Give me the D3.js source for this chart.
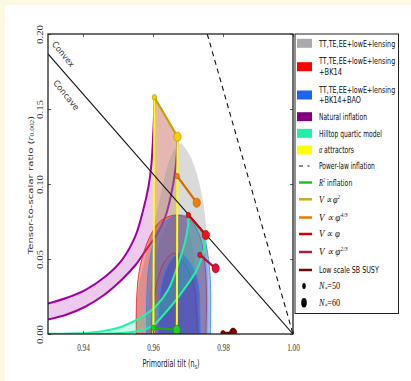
<!DOCTYPE html>
<html><head><meta charset="utf-8">
<script src="https://cdn.jsdelivr.net/npm/d3@7"></script>
<style>html,body{margin:0;padding:0;background:#fdf8e3;}svg{display:block}</style>
</head><body>
<svg id="chart" width="411" height="381"></svg>
<script>
// ---------- data (n_s, r) ----------
const xTicks = [0.94, 0.96, 0.98, 1.00];
const yTicks = [0.00, 0.05, 0.10, 0.15, 0.20];

// Planck 2018 constraints: 95% and 68% regions
const gray95 = [[0.9549,0],[0.9551,0.015],[0.9558,0.03],[0.9571,0.045],[0.9588,0.06],[0.9606,0.076],[0.9625,0.096],[0.9649,0.117],[0.9677,0.127],[0.9703,0.12],[0.9725,0.107],[0.974,0.092],[0.9749,0.078],[0.9755,0.05],[0.9758,0.025],[0.9758,0]];
const gray68 = [[0.9585,0],[0.9588,0.02],[0.9598,0.04],[0.9617,0.06],[0.9645,0.075],[0.9668,0.08],[0.9692,0.075],[0.9712,0.06],[0.9723,0.04],[0.9728,0.02],[0.973,0]];
const red95 = [[0.9553,0],[0.9553,0.0227],[0.9563,0.045],[0.9591,0.065],[0.9625,0.076],[0.9668,0.0793],[0.9705,0.076],[0.9734,0.065],[0.9749,0.045],[0.9753,0.0227],[0.9751,0]];
const red68 = [[0.9596,0],[0.9596,0.0116],[0.9611,0.0338],[0.9632,0.048],[0.9658,0.0538],[0.9686,0.048],[0.9715,0.0338],[0.9725,0.0116],[0.9727,0]];
const blue95 = [[0.9582,0],[0.9582,0.0227],[0.9588,0.045],[0.9608,0.065],[0.9640,0.076],[0.9677,0.0793],[0.9715,0.076],[0.9745,0.065],[0.9761,0.045],[0.9765,0.0227],[0.9764,0]];
const blue68 = [[0.9615,0],[0.9615,0.0116],[0.9625,0.0338],[0.9648,0.048],[0.9677,0.0538],[0.9705,0.048],[0.9729,0.0338],[0.9734,0.0116],[0.9735,0]];

// Natural inflation, N*=50 and N*=60
const natural50 = [[0.93,0.0203],[0.935,0.0238],[0.9406,0.0293],[0.9463,0.0382],[0.9511,0.0493],[0.9549,0.0649],[0.9572,0.0827],[0.9587,0.0982],[0.9595,0.112],[0.96,0.13],[0.9603,0.146],[0.9604,0.1578]];
const natural60 = [[0.93,0.0097],[0.935,0.0127],[0.9405,0.018],[0.946,0.026],[0.951,0.036],[0.955,0.046],[0.958,0.056],[0.961,0.066],[0.9635,0.078],[0.9652,0.093],[0.9663,0.108],[0.9668,0.12],[0.967,0.1315]];

// Hilltop quartic model, N*=50 and N*=60
const hilltop50 = [[0.93,0.0002],[0.9434,0.0012],[0.9506,0.0045],[0.9563,0.0107],[0.9606,0.018],[0.9643,0.0293],[0.9671,0.046],[0.9691,0.061],[0.97,0.072],[0.9701,0.0793]];
const hilltop60 = [[0.93,0],[0.945,0.0001],[0.952,0.0008],[0.9577,0.003],[0.9606,0.0067],[0.9629,0.0125],[0.9655,0.0195],[0.9687,0.0293],[0.9725,0.0427],[0.9745,0.055],[0.9751,0.066]];

// alpha attractors, N*=50 and N*=60
const alpha50 = [[0.9601,0],[0.9604,0.1578]];
const alpha60 = [[0.9668,0],[0.967,0.1315]];

// Single-field models: [N*=50, N*=60]
const phi2  = [[0.9604,0.1578],[0.967,0.1315]];
const phi43 = [[0.9669,0.1053],[0.9725,0.0875]];
const phi1  = [[0.9701,0.0793],[0.9751,0.066]];
const phi23 = [[0.9734,0.0527],[0.9779,0.0438]];
const r2Inf = [[0.9601,0.0042],[0.9668,0.0027]];
const susy  = [[0.9800,0.0006],[0.9829,0.0009]];

// reference lines
const convexLine = [[0.93,0.1867],[1.0,0]];
const powerLaw   = [[0.9755,0.2],[1.0,0]];

// ---------- layout ----------
const svg = d3.select("#chart");
const L = 48, R = 293, T = 34, B = 334;
const x = d3.scaleLinear().domain([0.93, 1.00]).range([L, R]);
const y = d3.scaleLinear().domain([0, 0.20]).range([B, T]);

svg.append("rect").attr("x",5).attr("y",5).attr("width",406).attr("height",376).attr("fill","#fff");

svg.append("defs").append("clipPath").attr("id","plotclip")
  .append("rect").attr("x",L).attr("y",T).attr("width",R-L).attr("height",B-T);
const g = svg.append("g").attr("clip-path","url(#plotclip)");

const line = d3.line().x(d=>x(d[0])).y(d=>y(d[1]));
const smooth = d3.line().x(d=>x(d[0])).y(d=>y(d[1])).curve(d3.curveCatmullRom.alpha(0.5));
const closedSmooth = pts => smooth(pts) + "Z";
const band = (a, b) => smooth(a) + "L" + smooth(b.slice().reverse()).slice(1) + "Z";

// filled model regions
g.append("path").attr("d", band(natural50, natural60)).attr("fill","#cc66cc").attr("fill-opacity",0.35);
g.append("path").attr("d", line([alpha50[0], alpha50[1], alpha60[1], alpha60[0]]) + "Z")
  .attr("fill","#d9a066").attr("fill-opacity",0.45);

// natural inflation curves
[natural50, natural60].forEach(c => g.append("path").attr("d", smooth(c))
  .attr("fill","none").attr("stroke","#a000a0").attr("stroke-width",2));

// data constraints
g.append("path").attr("d", closedSmooth(gray95)).attr("fill","#969696").attr("fill-opacity",0.35);
g.append("path").attr("d", closedSmooth(gray68)).attr("fill","#969696").attr("fill-opacity",0.3);
g.append("path").attr("d", closedSmooth(red95)).attr("fill","#e6281e").attr("fill-opacity",0.42)
  .attr("stroke","#e02020").attr("stroke-width",0.8);
g.append("path").attr("d", closedSmooth(red68)).attr("fill","#e6281e").attr("fill-opacity",0.22)
  .attr("stroke","#e02020").attr("stroke-width",0.8);
g.append("path").attr("d", closedSmooth(blue95)).attr("fill","#1e6ae6").attr("fill-opacity",0.42)
  .attr("stroke","#2f80ff").attr("stroke-width",0.8);
g.append("path").attr("d", closedSmooth(blue68)).attr("fill","#1a4ad8").attr("fill-opacity",0.45)
  .attr("stroke","#2f80ff").attr("stroke-width",0.8);

// hilltop band
g.append("path").attr("d", band(hilltop50, hilltop60)).attr("fill","#28f0aa").attr("fill-opacity",0.25);
[hilltop50, hilltop60].forEach(c => g.append("path").attr("d", smooth(c))
  .attr("fill","none").attr("stroke","#1ef5a0").attr("stroke-width",2));

// alpha attractor lines
[alpha50, alpha60].forEach(c => g.append("path").attr("d", line(c))
  .attr("fill","none").attr("stroke","#ffff00").attr("stroke-width",2));

// convex / concave boundary and power-law inflation
g.append("path").attr("d", line(convexLine)).attr("stroke","#111").attr("stroke-width",1.1).attr("fill","none");
g.append("path").attr("d", line(powerLaw)).attr("stroke","#111").attr("stroke-width",1.1)
  .attr("stroke-dasharray","5,4").attr("fill","none");

// model predictions: segment between N*=50 and N*=60
const models = [
  {pts: r2Inf, line: "#18a818", fill: "#22d022", edge: "#118811"},
  {pts: phi2,  line: "#c8a000", fill: "#f8d000", edge: "#b08800"},
  {pts: phi43, line: "#d86c00", fill: "#f08000", edge: "#b05800"},
  {pts: phi1,  line: "#d00000", fill: "#f01010", edge: "#a00000"},
  {pts: phi23, line: "#b81030", fill: "#e81038", edge: "#900020"},
  {pts: susy,  line: "#6a0000", fill: "#7a0000", edge: "#500000"}
];
const mk = [{rx:2.2, ry:2.7},{rx:3.6, ry:4.6}];
models.forEach(m => {
  g.append("path").attr("d", line(m.pts)).attr("stroke", m.line).attr("stroke-width",2.2).attr("fill","none");
  g.selectAll(null).data(m.pts).join("ellipse")
    .attr("cx", d=>x(d[0])).attr("cy", d=>y(d[1]))
    .attr("rx", (d,i)=>mk[i].rx).attr("ry", (d,i)=>mk[i].ry)
    .attr("fill", m.fill).attr("stroke", m.edge).attr("stroke-width",0.6);
});

// ---------- text helper: squeeze text horizontally to a given width ----------
function fit(t, width, tx, ty, rot = 0, sy = 1) {
  const w = t.node().getBBox().width;
  t.attr("transform", `translate(${tx},${ty}) rotate(${rot}) scale(${width / w},${sy})`);
  return t;
}

// Convex / Concave labels along the boundary
const angle = 51;
fit(svg.append("text").attr("text-anchor","middle").attr("font-family","DejaVu Sans")
  .attr("font-size",8.5).attr("fill","#333").text("Convex"), 30, 61, 56, angle);
fit(svg.append("text").attr("text-anchor","middle").attr("font-family","DejaVu Sans")
  .attr("font-size",8.5).attr("fill","#333").text("Concave"), 36, 64, 97, angle);

// ---------- axes ----------
const axG = svg.append("g");
const fmt = d3.format(".2f");
const axBottom = axG.append("g").attr("transform",`translate(0,${B})`)
  .call(d3.axisBottom(x).tickValues(xTicks).tickSizeInner(-3).tickSizeOuter(0).tickPadding(6).tickFormat(fmt));
axG.append("g").attr("transform",`translate(0,${T})`)
  .call(d3.axisTop(x).tickValues(xTicks).tickSizeInner(-3).tickSizeOuter(0).tickFormat(""));
const axLeft = axG.append("g").attr("transform",`translate(${L},0)`)
  .call(d3.axisLeft(y).tickValues(yTicks).tickSizeInner(-3).tickSizeOuter(0).tickFormat(fmt));
axG.append("g").attr("transform",`translate(${R},0)`)
  .call(d3.axisRight(y).tickValues(yTicks).tickSizeInner(-3).tickSizeOuter(0).tickFormat(""));
axG.selectAll(".domain").remove();
axG.selectAll(".tick line").attr("stroke","#333").attr("stroke-width",0.8);

axBottom.selectAll(".tick text").each(function(){
  const t = d3.select(this).attr("font-family","Liberation Serif").attr("font-size",11)
    .attr("fill","#333").attr("y",0).attr("dy",0).attr("text-anchor","middle");
  fit(t, 13, 0, 16.5);
});
axLeft.selectAll(".tick text").each(function(){
  const t = d3.select(this).attr("font-family","Liberation Serif").attr("font-size",8.5)
    .attr("fill","#333").attr("x",0).attr("dy",0).attr("text-anchor","middle");
  fit(t, 19, -5, 0, -90);
});

svg.append("rect").attr("x",L).attr("y",T).attr("width",R-L).attr("height",B-T)
  .attr("fill","none").attr("stroke","#222").attr("stroke-width",1.3);

// axis titles
const xt = svg.append("text").attr("text-anchor","middle").attr("font-family","DejaVu Sans")
  .attr("font-size",11).attr("fill","#222");
xt.append("tspan").text("Primordial tilt (n");
xt.append("tspan").attr("font-size",7.5).attr("dy",2).text("s");
xt.append("tspan").attr("dy",-2).text(")");
fit(xt, 57, 171, 367);

const yt = svg.append("text").attr("text-anchor","middle").attr("font-family","DejaVu Sans")
  .attr("font-size",9.5).attr("fill","#333");
yt.append("tspan").text("Tensor-to-scalar ratio (");
yt.append("tspan").attr("font-family","Liberation Serif").attr("font-style","italic").text("r");
yt.append("tspan").attr("font-family","Liberation Serif").attr("font-size",7).attr("dy",2).text("0.002");
yt.append("tspan").attr("dy",-2).text(")");
fit(yt, 140, 32.5, 185, -90, 0.78);

// ---------- legend ----------
const lg = svg.append("g");
lg.append("rect").attr("x",295).attr("y",34).attr("width",103.5).attr("height",279.5)
  .attr("fill","#fff").attr("stroke","#222").attr("stroke-width",1);

const legendAreas = [
  {c:"#aaaaaa", y:43.3, lines:[["TT,TE,EE+lowE+lensing",77,43.3]]},
  {c:"#ff0000", y:66.7, lines:[["TT,TE,EE+lowE+lensing",77,61],["+BK14",23,71.5]]},
  {c:"#1e64f0", y:95,   lines:[["TT,TE,EE+lowE+lensing",77,89.3],["+BK14+BAO",42,100]]},
  {c:"#800080", y:116.7,lines:[["Natural inflation",48,116.7]]},
  {c:"#1ef0aa", y:133.3,lines:[["Hilltop quartic model",63,133.3]]}
];
const FS = 9.5;
legendAreas.forEach(e => {
  lg.append("rect").attr("x",297).attr("y",e.y-4.5).attr("width",15).attr("height",9).attr("fill",e.c);
  e.lines.forEach(([s,w,cy]) => fit(lg.append("text").attr("font-family","DejaVu Sans").attr("font-size",FS)
    .attr("fill","#111").text(s), w, 319, cy + 3.4));
});

// alpha attractors
lg.append("rect").attr("x",297).attr("y",145.5).attr("width",15).attr("height",9).attr("fill","#ffff00");
{
  const t = lg.append("text").attr("font-family","DejaVu Sans").attr("font-size",FS).attr("fill","#111");
  t.append("tspan").attr("font-family","Liberation Serif").attr("font-style","italic").text("α");
  t.append("tspan").text(" attractors");
  fit(t, 35, 319, 153.4);
}
// power-law
lg.append("line").attr("x1",299).attr("x2",312).attr("y1",166).attr("y2",166)
  .attr("stroke","#111").attr("stroke-width",1.2).attr("stroke-dasharray","4,4.5,2,3");
fit(lg.append("text").attr("font-family","DejaVu Sans").attr("font-size",FS).attr("fill","#111")
  .text("Power-law inflation"), 56, 319, 169.4);

// model line entries
const legendModels = [
  {c:"#22c022", y:182.5, w:34, parts:[["R","i"],["2","sup"],[" inflation","n"]]},
  {c:"#c8a828", y:199.3, w:22, parts:[["V ∝ φ","i"],["2","sup"]]},
  {c:"#ec7800", y:217.5, w:29, parts:[["V ∝ φ","i"],["4/3","sup"]]},
  {c:"#d20000", y:234,   w:21, parts:[["V ∝ φ","i"]]},
  {c:"#a8203c", y:252,   w:29, parts:[["V ∝ φ","i"],["2/3","sup"]]},
  {c:"#6e0a0a", y:270,   w:60, parts:[["Low scale SB SUSY","n"]]}
];
legendModels.forEach(e => {
  lg.append("line").attr("x1",299).attr("x2",312).attr("y1",e.y).attr("y2",e.y)
    .attr("stroke",e.c).attr("stroke-width",2.5);
  const t = lg.append("text").attr("font-family","DejaVu Sans").attr("font-size",FS).attr("fill","#111");
  e.parts.forEach(([s,k]) => {
    const sp = t.append("tspan").text(s);
    if (k === "i") sp.attr("font-family","Liberation Serif").attr("font-style","italic").attr("font-size",10);
    if (k === "sup") sp.attr("font-family","Liberation Serif").attr("font-style","italic").attr("font-size",6.5).attr("dy",-4);
    if (k === "n" && t.selectAll("tspan").size() > 1) sp.attr("dy",4);
  });
  fit(t, e.w, 319, e.y + 3.4);
});

// N* markers
[[286, 0, "50"], [302.7, 1, "60"]].forEach(([cy, i, n]) => {
  lg.append("ellipse").attr("cx",304).attr("cy",cy).attr("rx",[1.8,2.8][i]).attr("ry",[3,4.7][i]).attr("fill","#000");
  const t = lg.append("text").attr("font-family","Liberation Serif").attr("font-style","italic")
    .attr("font-size",10).attr("fill","#111");
  t.append("tspan").text("N");
  t.append("tspan").attr("font-size",7).attr("dy",2).text("*");
  t.append("tspan").attr("dy",-2).attr("font-style","normal").text("=" + n);
  fit(t, 22, 319, cy + 3.4);
});
</script>
</body></html>
